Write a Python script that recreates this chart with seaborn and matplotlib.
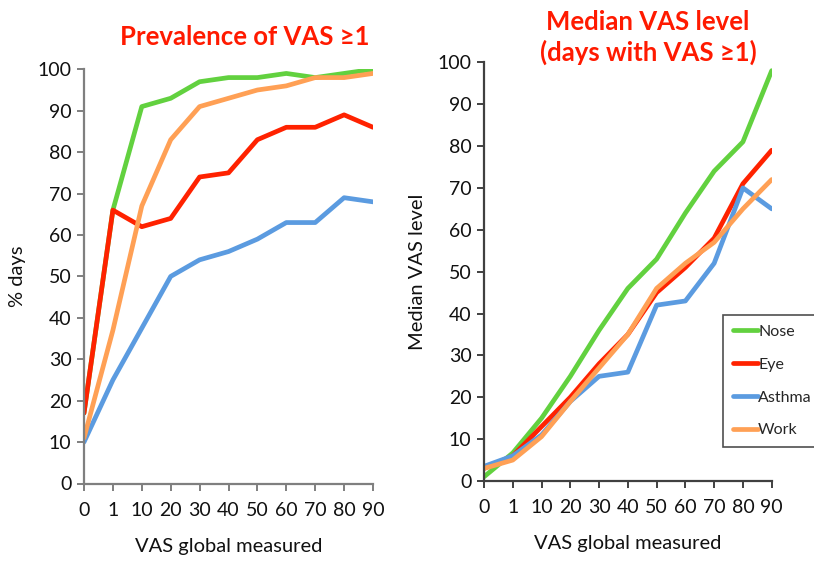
import matplotlib
matplotlib.use("Agg")
import matplotlib.pyplot as plt
import seaborn as sns
import pandas as pd

categories = ["0", "1", "10", "20", "30", "40", "50", "60", "70", "80", "90"]
series_names = ["Nose", "Eye", "Asthma", "Work"]

prev_nose = [17, 66, 91, 93, 97, 98, 98, 99, 98, 99, 100]
prev_eye = [17, 66, 62, 64, 74, 75, 83, 86, 86, 89, 86]
prev_asthma = [10, 25, 37.5, 50, 54, 56, 59, 63, 63, 69, 68]
prev_work = [11, 37, 67, 83, 91, 93, 95, 96, 98, 98, 99]

med_nose = [1, 6.7, 15, 25, 36, 46, 53, 64, 74, 81, 98]
med_eye = [3, 6, 13, 20, 28, 35, 45, 51, 58, 71, 79]
med_asthma = [3.5, 6, 11, 19, 25, 26, 42, 43, 52, 70, 65]
med_work = [3, 5, 10.6, 19, 27, 35, 46, 52, 57, 65, 72]

y_ticks = [0, 10, 20, 30, 40, 50, 60, 70, 80, 90, 100]

colors = {"Nose": "#62d13f", "Eye": "#ff2200", "Asthma": "#5b9be0", "Work": "#ffa055"}

def long_df(vals):
    rows = []
    for name, v in zip(series_names, vals):
        for c, y in zip(categories, v):
            rows.append({"cat": c, "value": y, "series": name})
    return pd.DataFrame(rows)

df_prev = long_df([prev_nose, prev_eye, prev_asthma, prev_work])
df_med = long_df([med_nose, med_eye, med_asthma, med_work])

sns.set_style("white")
plt.rcParams["font.family"] = ["Lato", "DejaVu Sans"]

fig = plt.figure(figsize=(8.14, 5.65), dpi=100)
ax1 = fig.add_axes([84 / 814, (565 - 483.5) / 565, 289 / 814, 414.2 / 565])
ax2 = fig.add_axes([484 / 814, (565 - 481) / 565, 287.7 / 814, 418.7 / 565])

for ax, df, spine_col in [(ax1, df_prev, "#7f7f7f"), (ax2, df_med, "#404040")]:
    sns.lineplot(data=df, x="cat", y="value", hue="series", hue_order=series_names,
                 palette=colors, linewidth=3.4, sort=False, ax=ax, legend=(ax is ax2))
    ax.set_xlim(0, len(categories) - 1)
    ax.set_ylim(0, 100)
    ax.set_xticks(range(len(categories)))
    ax.set_xticklabels(categories)
    ax.set_yticks(y_ticks)
    for s in ["top", "right"]:
        ax.spines[s].set_visible(False)
    for s in ["left", "bottom"]:
        ax.spines[s].set_color(spine_col)
        ax.spines[s].set_linewidth(1.6)
    ax.tick_params(axis="both", which="both", direction="out", length=5, width=1.4,
                   color=spine_col, labelsize=14, labelcolor="#111111", pad=4,
                   bottom=True, left=True)
    ax.tick_params(axis="x", pad=8)
    ax.set_xlabel("VAS global measured", fontsize=14.5, labelpad=14, color="#111111")

ax1.set_ylabel("% days", fontsize=14.5, labelpad=8, color="#111111")
ax2.set_ylabel("Median VAS level", fontsize=14.5, labelpad=8, color="#111111")

fig.text(245 / 814, 1 - 37 / 565, "Prevalence of VAS ≥1", color="#ff1a00",
         fontsize=18.5, fontweight="bold", ha="center", va="center")
fig.text(648 / 814, 1 - 22 / 565, "Median VAS level", color="#ff1a00",
         fontsize=18.5, fontweight="bold", ha="center", va="center")
fig.text(648 / 814, 1 - 52 / 565, "(days with VAS ≥1)", color="#ff1a00",
         fontsize=18.5, fontweight="bold", ha="center", va="center")

leg = ax2.legend(loc="upper left", bbox_to_anchor=(723 / 814, 1 - 315 / 565),
                 bbox_transform=fig.transFigure, frameon=True, fancybox=False,
                 handlelength=1.6, handletextpad=0.0, labelspacing=1.17,
                 borderpad=0.6, borderaxespad=0, fontsize=11.5, title=None)
leg.get_frame().set_edgecolor("#222222")
leg.get_frame().set_linewidth(1.2)
for line in leg.get_lines():
    line.set_linewidth(3.4)

fig.savefig("out.png", dpi=100)
